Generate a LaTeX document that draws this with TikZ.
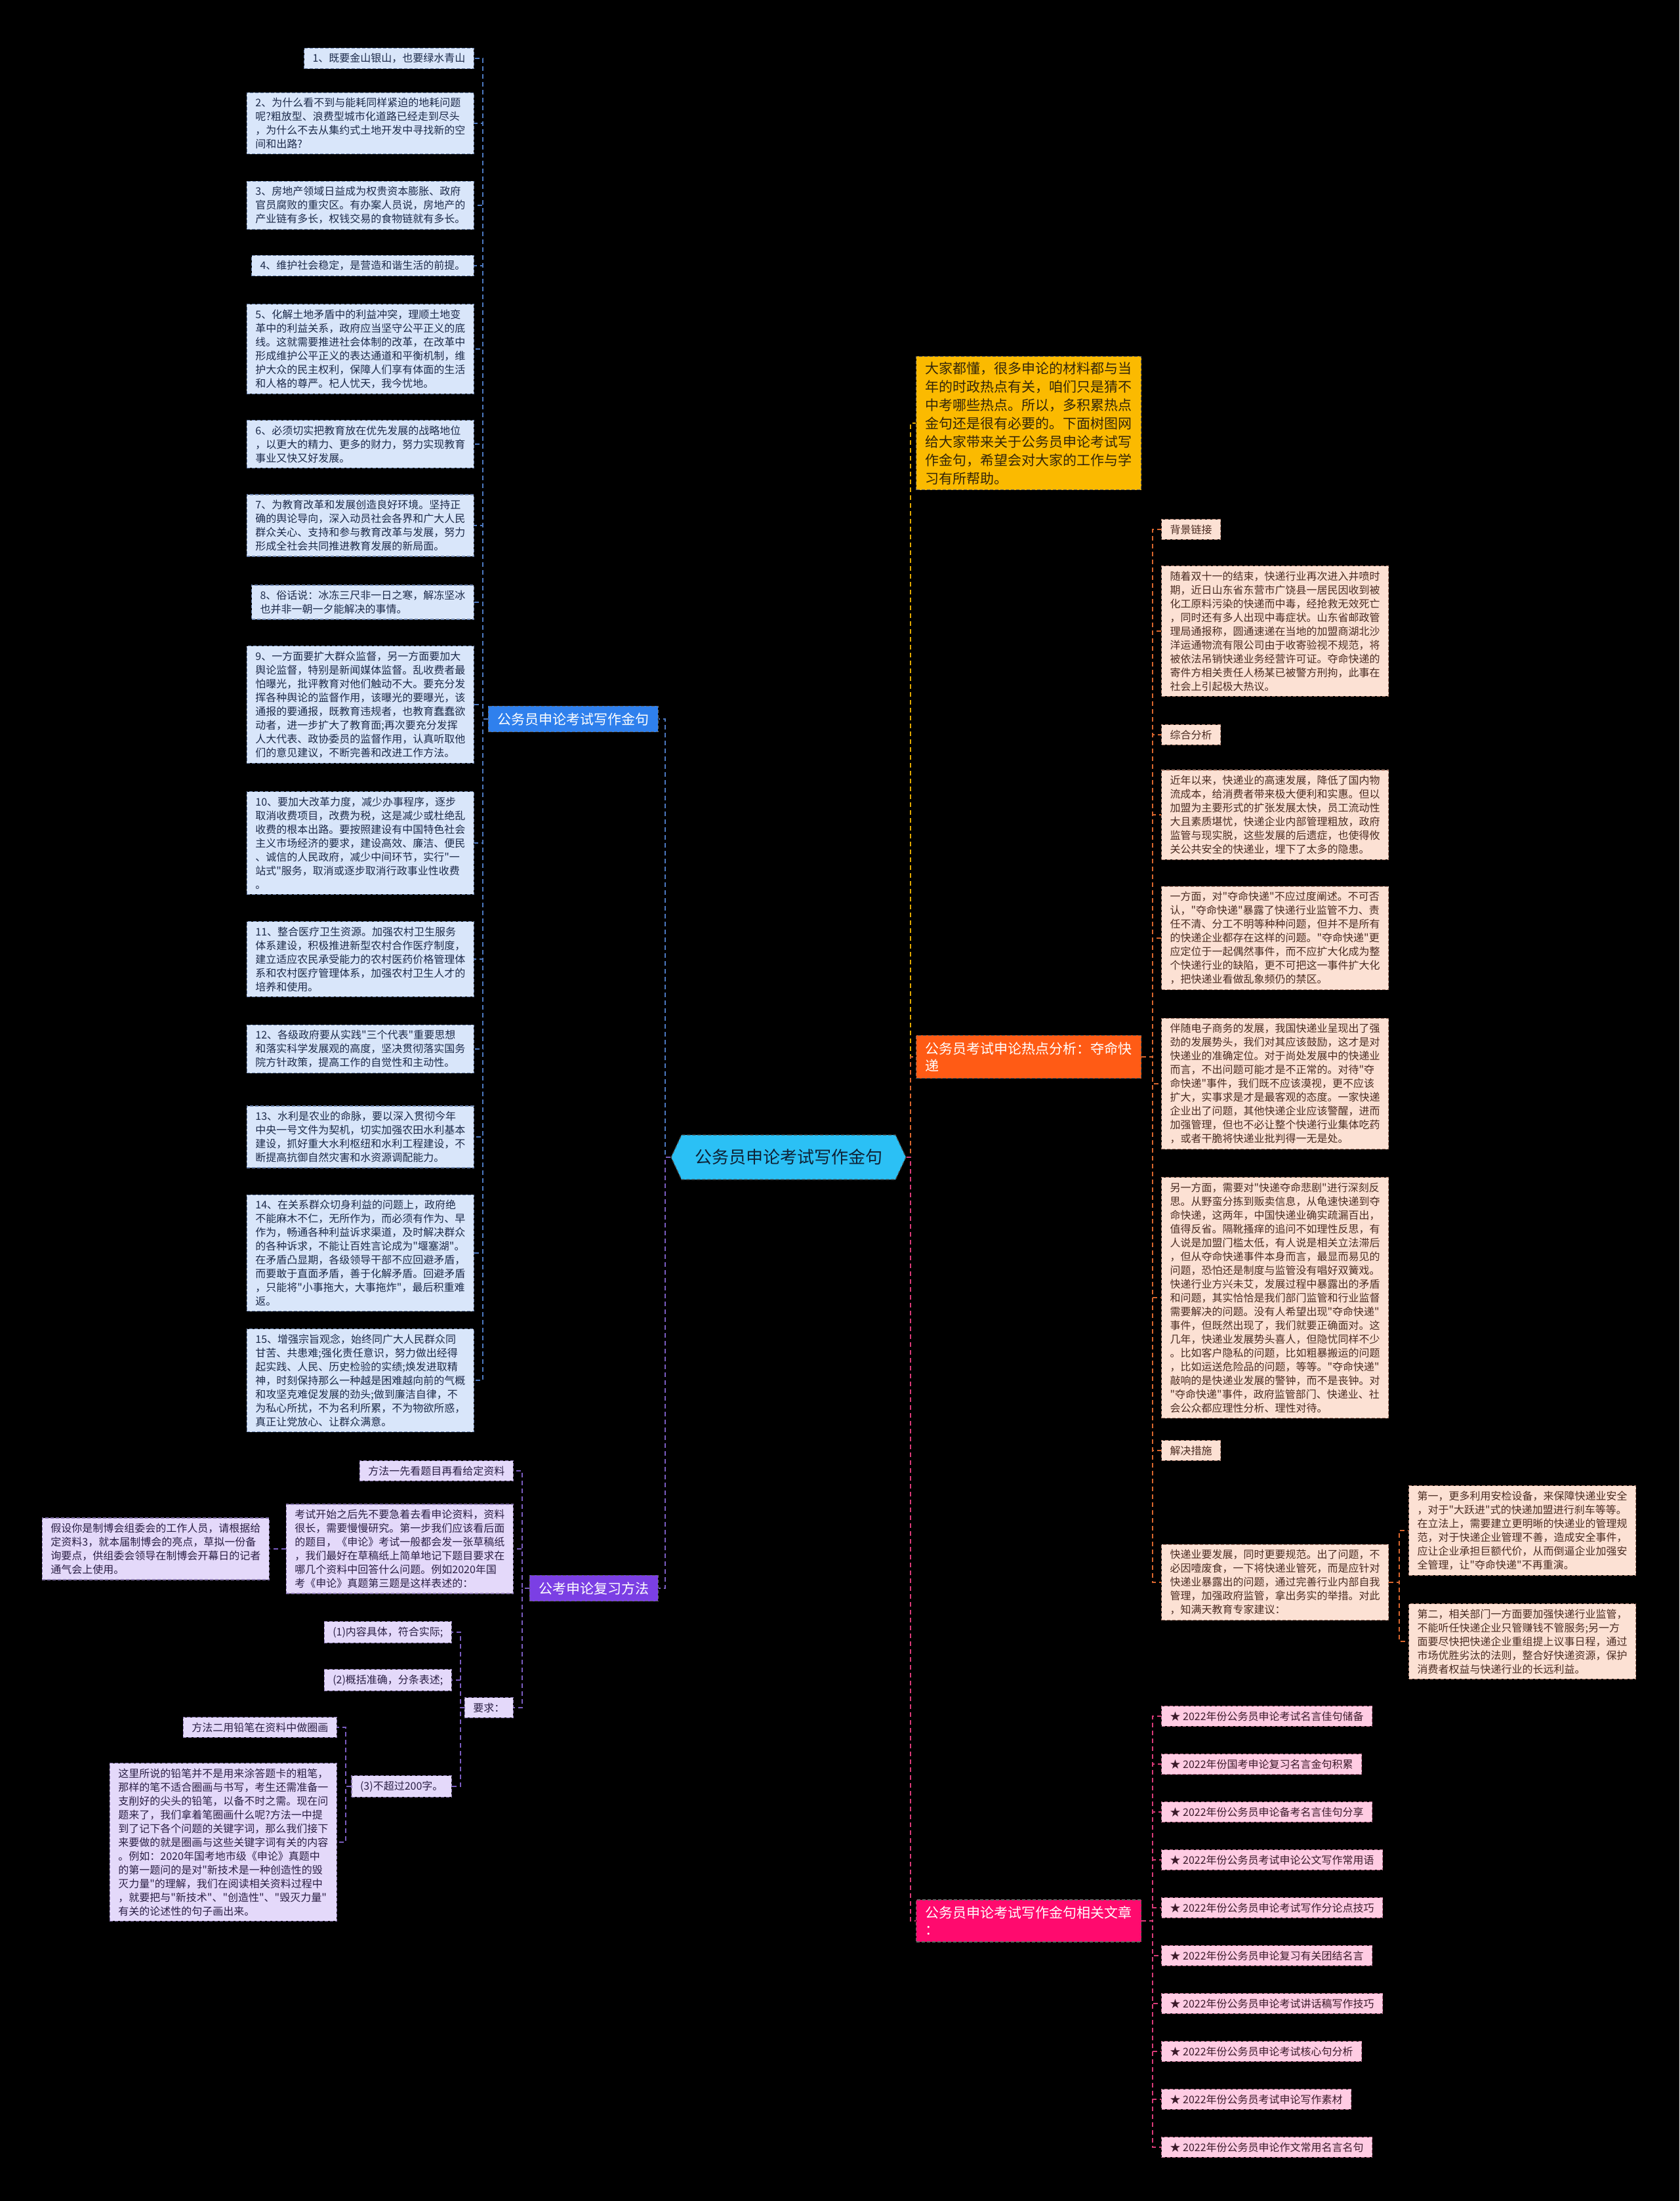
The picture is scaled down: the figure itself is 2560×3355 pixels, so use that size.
\documentclass[tikz,border=0pt]{standalone}
\usepackage{fontspec}
\setmainfont{Noto Sans CJK SC}[Ligatures=TeXOff]
\usetikzlibrary{shapes.symbols}
\definecolor{bleaf}{HTML}{D9E6FA}\definecolor{bleafd}{HTML}{6F86B0}\definecolor{bleaft}{HTML}{1C2A4A}
\definecolor{bbr}{HTML}{2F80ED}\definecolor{bcon}{HTML}{4C78C0}
\definecolor{pleaf}{HTML}{E4D9FA}\definecolor{pleafd}{HTML}{8A78B0}\definecolor{pleaft}{HTML}{2A1F45}
\definecolor{pbr}{HTML}{7B3FE4}\definecolor{pcon}{HTML}{7A5CC0}
\definecolor{ybr}{HTML}{FBBA00}\definecolor{ycon}{HTML}{E0A800}\definecolor{ytxt}{HTML}{33260A}
\definecolor{oleaf}{HTML}{FCE1D4}\definecolor{oleafd}{HTML}{B08070}\definecolor{oleaft}{HTML}{4B2C22}
\definecolor{obr}{HTML}{FF5B15}\definecolor{ocon}{HTML}{D9662E}
\definecolor{kleaf}{HTML}{FFCCE3}\definecolor{kleafd}{HTML}{C07090}\definecolor{kleaft}{HTML}{3B1A2A}
\definecolor{kbr}{HTML}{FF0A6E}\definecolor{kcon}{HTML}{D93A78}
\definecolor{cfill}{HTML}{2BC0F5}\definecolor{ctxt}{HTML}{0E2236}
\tikzset{
  leaf/.style={draw, dash pattern=on 5pt off 3pt, line width=1.2pt, inner xsep=13pt, inner ysep=8pt, align=left, font=\fontsize{16}{21}\selectfont},
  bl/.style={leaf, fill=bleaf, draw=bleafd, text=bleaft, anchor=east},
  pl/.style={leaf, fill=pleaf, draw=pleafd, text=pleaft, anchor=east},
  ol/.style={leaf, fill=oleaf, draw=oleafd, text=oleaft, anchor=west},
  kl/.style={leaf, fill=kleaf, draw=kleafd, text=kleaft, anchor=west},
  branch/.style={draw=black!60, dash pattern=on 5pt off 3pt, line width=1.2pt, inner xsep=14pt, inner ysep=10pt, align=left, text=white, font=\fontsize{21}{26}\selectfont},
  conn/.style={dash pattern=on 7pt off 5pt, line width=2pt},
}
\begin{document}
\begin{tikzpicture}[x=1pt,y=-1pt]
\fill[black] (0,0) rectangle (2560,3355);
% bus coordinates
\coordinate (lb) at (1014,0);
\coordinate (rb) at (1388,0);
\coordinate (ib) at (736,0);
\coordinate (ob) at (1757,0);
\coordinate (sb) at (2133,0);
\coordinate (pb) at (796,0);
\coordinate (qb) at (702,0);
\coordinate (tb) at (527,0);
% centre
\node[signal, signal to=west and east, signal pointer angle=130, fill=cfill, draw=black!70, dash pattern=on 5pt off 3pt, line width=1.2pt, minimum width=358pt, minimum height=68pt, inner xsep=4pt, text=ctxt, font=\fontsize{26}{30}\selectfont] (c) at (1202,1764) {公务员申论考试写作金句};
% branches
\node[branch, fill=bbr, anchor=east] (bn) at (1004,1096) {公务员申论考试写作金句};
\node[branch, fill=pbr, anchor=east] (pn) at (1004,2421) {公考申论复习方法};
\node[branch, fill=ybr, text=ytxt, anchor=west, inner ysep=8pt, font=\fontsize{21}{28}\selectfont] (yn) at (1396,645) {大家都懂，很多申论的材料都与当\\年的时政热点有关，咱们只是猜不\\中考哪些热点。所以，多积累热点\\金句还是很有必要的。下面树图网\\给大家带来关于公务员申论考试写\\作金句，希望会对大家的工作与学\\习有所帮助。};
\node[branch, fill=obr, anchor=west] (on) at (1396,1611) {公务员考试申论热点分析：夺命快\\递};
\node[branch, fill=kbr, anchor=west] (kn) at (1396,2928) {公务员申论考试写作金句相关文章\\：};
% left items
\node[bl] (i1) at (723,89) {1、既要金山银山，也要绿水青山};
\node[bl] (i2) at (723,188) {2、为什么看不到与能耗同样紧迫的地耗问题\\呢?粗放型、浪费型城市化道路已经走到尽头\\，为什么不去从集约式土地开发中寻找新的空\\间和出路?};
\node[bl] (i3) at (723,313) {3、房地产领域日益成为权贵资本膨胀、政府\\官员腐败的重灾区。有办案人员说，房地产的\\产业链有多长，权钱交易的食物链就有多长。};
\node[bl] (i4) at (723,405) {4、维护社会稳定，是营造和谐生活的前提。};
\node[bl] (i5) at (723,532) {5、化解土地矛盾中的利益冲突，理顺土地变\\革中的利益关系，政府应当坚守公平正义的底\\线。这就需要推进社会体制的改革，在改革中\\形成维护公平正义的表达通道和平衡机制，维\\护大众的民主权利，保障人们享有体面的生活\\和人格的尊严。杞人忧天，我今忧地。};
\node[bl] (i6) at (723,677) {6、必须切实把教育放在优先发展的战略地位\\，以更大的精力、更多的财力，努力实现教育\\事业又快又好发展。};
\node[bl] (i7) at (723,801) {7、为教育改革和发展创造良好环境。坚持正\\确的舆论导向，深入动员社会各界和广大人民\\群众关心、支持和参与教育改革与发展，努力\\形成全社会共同推进教育发展的新局面。};
\node[bl] (i8) at (723,918) {8、俗话说：冰冻三尺非一日之寒，解冻坚冰\\也并非一朝一夕能解决的事情。};
\node[bl] (i9) at (723,1074) {9、一方面要扩大群众监督，另一方面要加大\\舆论监督，特别是新闻媒体监督。乱收费者最\\怕曝光，批评教育对他们触动不大。要充分发\\挥各种舆论的监督作用，该曝光的要曝光，该\\通报的要通报，既教育违规者，也教育蠢蠢欲\\动者，进一步扩大了教育面;再次要充分发挥\\人大代表、政协委员的监督作用，认真听取他\\们的意见建议，不断完善和改进工作方法。};
\node[bl] (i10) at (723,1285) {10、要加大改革力度，减少办事程序，逐步\\取消收费项目，改费为税，这是减少或杜绝乱\\收费的根本出路。要按照建设有中国特色社会\\主义市场经济的要求，建设高效、廉洁、便民\\、诚信的人民政府，减少中间环节，实行"一\\站式"服务，取消或逐步取消行政事业性收费\\。};
\node[bl] (i11) at (723,1462) {11、整合医疗卫生资源。加强农村卫生服务\\体系建设，积极推进新型农村合作医疗制度，\\建立适应农民承受能力的农村医药价格管理体\\系和农村医疗管理体系，加强农村卫生人才的\\培养和使用。};
\node[bl] (i12) at (723,1599) {12、各级政府要从实践"三个代表"重要思想\\和落实科学发展观的高度，坚决贯彻落实国务\\院方针政策，提高工作的自觉性和主动性。};
\node[bl] (i13) at (723,1733) {13、水利是农业的命脉，要以深入贯彻今年\\中央一号文件为契机，切实加强农田水利基本\\建设，抓好重大水利枢纽和水利工程建设，不\\断提高抗御自然灾害和水资源调配能力。};
\node[bl] (i14) at (723,1910) {14、在关系群众切身利益的问题上，政府绝\\不能麻木不仁，无所作为，而必须有作为、早\\作为，畅通各种利益诉求渠道，及时解决群众\\的各种诉求，不能让百姓言论成为"堰塞湖"。\\在矛盾凸显期，各级领导干部不应回避矛盾，\\而要敢于直面矛盾，善于化解矛盾。回避矛盾\\，只能将"小事拖大，大事拖炸"，最后积重难\\返。};
\node[bl] (i15) at (723,2104) {15、增强宗旨观念，始终同广大人民群众同\\甘苦、共患难;强化责任意识，努力做出经得\\起实践、人民、历史检验的实绩;焕发进取精\\神，时刻保持那么一种越是困难越向前的气概\\和攻坚克难促发展的劲头;做到廉洁自律，不\\为私心所扰，不为名利所累，不为物欲所惑，\\真正让党放心、让群众满意。};
% purple branch
\node[pl] (m1) at (783,2242) {方法一先看题目再看给定资料};
\node[pl] (ks) at (783,2361) {考试开始之后先不要急着去看申论资料，资料\\很长，需要慢慢研究。第一步我们应该看后面\\的题目，《申论》考试一般都会发一张草稿纸\\，我们最好在草稿纸上简单地记下题目要求在\\哪几个资料中回答什么问题。例如2020年国\\考《申论》真题第三题是这样表述的：};
\node[pl] (js) at (411,2361) {假设你是制博会组委会的工作人员，请根据给\\定资料3，就本届制博会的亮点，草拟一份备\\询要点，供组委会领导在制博会开幕日的记者\\通气会上使用。};
\node[pl] (yq) at (783,2603) {要求：};
\node[pl] (r1) at (689,2488) {(1)内容具体，符合实际;};
\node[pl] (r2) at (689,2561) {(2)概括准确，分条表述;};
\node[pl] (r3) at (689,2723) {(3)不超过200字。};
\node[pl] (m2) at (514,2633) {方法二用铅笔在资料中做圈画};
\node[pl] (zl) at (514,2808) {这里所说的铅笔并不是用来涂答题卡的粗笔，\\那样的笔不适合圈画与书写，考生还需准备一\\支削好的尖头的铅笔，以备不时之需。现在问\\题来了，我们拿着笔圈画什么呢?方法一中提\\到了记下各个问题的关键字词，那么我们接下\\来要做的就是圈画与这些关键字词有关的内容\\。例如：2020年国考地市级《申论》真题中\\的第一题问的是对"新技术是一种创造性的毁\\灭力量"的理解，我们在阅读相关资料过程中\\，就要把与"新技术"、"创造性"、"毁灭力量"\\有关的论述性的句子画出来。};
% orange branch
\node[ol] (o1) at (1770,807) {背景链接};
\node[ol] (o2) at (1770,962) {随着双十一的结束，快递行业再次进入井喷时\\期，近日山东省东营市广饶县一居民因收到被\\化工原料污染的快递而中毒，经抢救无效死亡\\，同时还有多人出现中毒症状。山东省邮政管\\理局通报称，圆通速递在当地的加盟商湖北沙\\洋运通物流有限公司由于收寄验视不规范，将\\被依法吊销快递业务经营许可证。夺命快递的\\寄件方相关责任人杨某已被警方刑拘，此事在\\社会上引起极大热议。};
\node[ol] (o3) at (1770,1120) {综合分析};
\node[ol] (o4) at (1770,1242) {近年以来，快递业的高速发展，降低了国内物\\流成本，给消费者带来极大便利和实惠。但以\\加盟为主要形式的扩张发展太快，员工流动性\\大且素质堪忧，快递企业内部管理粗放，政府\\监管与现实脱，这些发展的后遗症，也使得攸\\关公共安全的快递业，埋下了太多的隐患。};
\node[ol] (o5) at (1770,1430) {一方面，对"夺命快递"不应过度阐述。不可否\\认，"夺命快递"暴露了快递行业监管不力、责\\任不清、分工不明等种种问题，但并不是所有\\的快递企业都存在这样的问题。"夺命快递"更\\应定位于一起偶然事件，而不应扩大化成为整\\个快递行业的缺陷，更不可把这一事件扩大化\\，把快递业看做乱象频仍的禁区。};
\node[ol] (o6) at (1770,1652) {伴随电子商务的发展，我国快递业呈现出了强\\劲的发展势头，我们对其应该鼓励，这才是对\\快递业的准确定位。对于尚处发展中的快递业\\而言，不出问题可能才是不正常的。对待"夺\\命快递"事件，我们既不应该漠视，更不应该\\扩大，实事求是才是最客观的态度。一家快递\\企业出了问题，其他快递企业应该警醒，进而\\加强管理，但也不必让整个快递行业集体吃药\\，或者干脆将快递业批判得一无是处。};
\node[ol] (o7) at (1770,1978) {另一方面，需要对"快递夺命悲剧"进行深刻反\\思。从野蛮分拣到贩卖信息，从龟速快递到夺\\命快递，这两年，中国快递业确实疏漏百出，\\值得反省。隔靴搔痒的追问不如理性反思，有\\人说是加盟门槛太低，有人说是相关立法滞后\\，但从夺命快递事件本身而言，最显而易见的\\问题，恐怕还是制度与监管没有唱好双簧戏。\\快递行业方兴未艾，发展过程中暴露出的矛盾\\和问题，其实恰恰是我们部门监管和行业监督\\需要解决的问题。没有人希望出现"夺命快递"\\事件，但既然出现了，我们就要正确面对。这\\几年，快递业发展势头喜人，但隐忧同样不少\\。比如客户隐私的问题，比如粗暴搬运的问题\\，比如运送危险品的问题，等等。"夺命快递"\\敲响的是快递业发展的警钟，而不是丧钟。对\\"夺命快递"事件，政府监管部门、快递业、社\\会公众都应理性分析、理性对待。};
\node[ol] (o8) at (1770,2211) {解决措施};
\node[ol] (o9) at (1770,2412) {快递业要发展，同时更要规范。出了问题，不\\必因噎废食，一下将快递业管死，而是应针对\\快递业暴露出的问题，通过完善行业内部自我\\管理，加强政府监管，拿出务实的举措。对此\\，知满天教育专家建议：};
\node[ol] (s1) at (2147,2333) {第一，更多利用安检设备，来保障快递业安全\\，对于"大跃进"式的快递加盟进行刹车等等。\\在立法上，需要建立更明晰的快递业的管理规\\范，对于快递企业管理不善，造成安全事件，\\应让企业承担巨额代价，从而倒逼企业加强安\\全管理，让"夺命快递"不再重演。};
\node[ol] (s2) at (2147,2502) {第二，相关部门一方面要加强快递行业监管，\\不能听任快递企业只管赚钱不管服务;另一方\\面要尽快把快递企业重组提上议事日程，通过\\市场优胜劣汰的法则，整合好快递资源，保护\\消费者权益与快递行业的长远利益。};
% pink branch
\node[kl] (k1) at (1770,2616) {★ 2022年份公务员申论考试名言佳句储备};
\node[kl] (k2) at (1770,2689) {★ 2022年份国考申论复习名言金句积累};
\node[kl] (k3) at (1770,2762) {★ 2022年份公务员申论备考名言佳句分享};
\node[kl] (k4) at (1770,2835) {★ 2022年份公务员考试申论公文写作常用语};
\node[kl] (k5) at (1770,2908) {★ 2022年份公务员申论考试写作分论点技巧};
\node[kl] (k6) at (1770,2981) {★ 2022年份公务员申论复习有关团结名言};
\node[kl] (k7) at (1770,3054) {★ 2022年份公务员申论考试讲话稿写作技巧};
\node[kl] (k8) at (1770,3127) {★ 2022年份公务员申论考试核心句分析};
\node[kl] (k9) at (1770,3200) {★ 2022年份公务员考试申论写作素材};
\node[kl] (k10) at (1770,3273) {★ 2022年份公务员申论作文常用名言名句};
% connectors
\draw[conn, ycon] (c.east) -- (c.east -| rb) |- (yn.west);
\draw[conn, ocon] (c.east) -- (c.east -| rb) |- (on.west);
\draw[conn, kcon] (c.east) -- (c.east -| rb) |- (kn.west);
\draw[conn, bcon] (c.west) -- (c.west -| lb) |- (bn.east);
\draw[conn, pcon] (c.west) -- (c.west -| lb) |- (pn.east);
\foreach \n in {i1,i2,i3,i4,i5,i6,i7,i8,i9,i10,i11,i12,i13,i14,i15}
  \draw[conn, bcon] (bn.west) -- (bn.west -| ib) |- (\n.east);
\foreach \n in {m1,ks,yq}
  \draw[conn, pcon] (pn.west) -- (pn.west -| pb) |- (\n.east);
\draw[conn, pcon] (ks.west) -- (js.east);
\foreach \n in {r1,r2,r3}
  \draw[conn, pcon] (yq.west) -- (yq.west -| qb) |- (\n.east);
\foreach \n in {m2,zl}
  \draw[conn, pcon] (r3.west) -- (r3.west -| tb) |- (\n.east);
\foreach \n in {o1,o2,o3,o4,o5,o6,o7,o8,o9}
  \draw[conn, ocon] (on.east) -- (on.east -| ob) |- (\n.west);
\foreach \n in {s1,s2}
  \draw[conn, ocon] (o9.east) -- (o9.east -| sb) |- (\n.west);
\foreach \n in {k1,k2,k3,k4,k5,k6,k7,k8,k9,k10}
  \draw[conn, kcon] (kn.east) -- (kn.east -| ob) |- (\n.west);
\end{tikzpicture}
\end{document}
